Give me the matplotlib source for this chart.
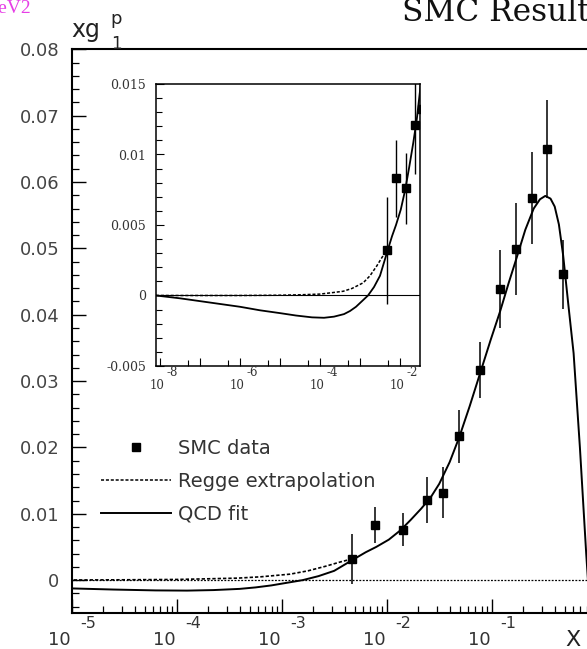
import numpy as np
import matplotlib
matplotlib.use("Agg")
import matplotlib.pyplot as plt
from matplotlib.lines import Line2D
from matplotlib.ticker import MultipleLocator, LogLocator, NullFormatter

W, H = 587, 649

# SMC data: x, x*g1p and error
data_x = [0.0047, 0.0078, 0.0144, 0.024, 0.0346, 0.049, 0.0775, 0.120, 0.170, 0.244, 0.337, 0.478]
data_y = [0.0032, 0.0083, 0.0076, 0.0121, 0.0132, 0.0217, 0.0317, 0.0439, 0.0499, 0.0576, 0.0650, 0.0461]
data_err = [0.0038, 0.0027, 0.0025, 0.0035, 0.0039, 0.0040, 0.0042, 0.0059, 0.0070, 0.0069, 0.0074, 0.0052]

# QCD fit (log10 x, x*g1p)
qcd_logx = [-8.1, -7.5, -7.0, -6.5, -6.0, -5.5, -5.0, -4.6, -4.2, -3.9, -3.65, -3.4, -3.25,
            -3.1, -2.95, -2.8, -2.65, -2.5, -2.33, -2.2, -2.1, -1.98, -1.87, -1.77, -1.67,
            -1.58, -1.5, -1.4, -1.31, -1.21, -1.11, -1.01, -0.92, -0.84, -0.76, -0.68,
            -0.60, -0.54, -0.49, -0.44, -0.40, -0.36, -0.32, -0.27, -0.22, -0.16, -0.10, -0.05]
qcd_y = [0.0, -0.0002, -0.0004, -0.0006, -0.0008, -0.00105, -0.00125, -0.00142, -0.00155,
         -0.00158, -0.0015, -0.00132, -0.0011, -0.0008, -0.0004, 0.0, 0.0006, 0.0014, 0.0030,
         0.0042, 0.0050, 0.0061, 0.0075, 0.0091, 0.0108, 0.0125, 0.0145, 0.0178, 0.0215,
         0.0262, 0.0312, 0.0362, 0.0405, 0.0447, 0.0487, 0.0528, 0.0560, 0.0574, 0.0579,
         0.0575, 0.0563, 0.0536, 0.0490, 0.0415, 0.0342, 0.020, 0.004, -0.008]

# Regge extrapolation at small x
regge_logx = [-8.1, -6.0, -5.0, -4.5, -4.0, -3.7, -3.42, -3.2, -2.92, -2.75, -2.58, -2.45, -2.33]
regge_y = [0.0, 0.0, 0.00002, 0.00005, 0.0001, 0.0002, 0.0003, 0.0005, 0.0009, 0.0014,
           0.0021, 0.0027, 0.0032]

main_decades = [-5, -4, -3, -2, -1]
inset_decades = [-8, -6, -4, -2]

qcd_x = np.power(10.0, qcd_logx)
regge_x = np.power(10.0, regge_logx)

fig = plt.figure(figsize=(W / 100, H / 100), dpi=100)

def px(x0, y0, w, h):
    return [x0 / W, 1 - (y0 + h) / H, w / W, h / H]

# ---------- main plot ----------
ax = fig.add_axes(px(71.7, 49.3, 525, 564))
ax.set_xscale("log")
ax.set_xlim(1e-5, 1)
ax.set_ylim(-0.005, 0.08)

ax.axhline(0, color="k", lw=0.9, ls=(0, (1.5, 1.2)))
ax.plot(regge_x, regge_y, color="k", lw=1.2, ls=(0, (2, 1.2)))
ax.plot(qcd_x, qcd_y, color="k", lw=1.4)
ax.errorbar(data_x, data_y, yerr=data_err, fmt="s", color="k", ms=6,
            elinewidth=1.1, capsize=0)

for s in ax.spines.values():
    s.set_linewidth(1.5)
ax.yaxis.set_minor_locator(MultipleLocator(0.002))
ax.set_yticks(np.arange(0, 0.081, 0.01))
ax.set_yticklabels(["0"] + ["%.2f" % v for v in np.arange(0.01, 0.081, 0.01)])
ax.xaxis.set_major_locator(LogLocator(base=10, numticks=10))
ax.xaxis.set_minor_locator(LogLocator(base=10, subs=np.arange(2, 10), numticks=20))
ax.xaxis.set_major_formatter(NullFormatter())
ax.xaxis.set_minor_formatter(NullFormatter())
ax.tick_params(which="both", direction="in", top=False, right=False)
ax.tick_params(which="major", length=10, width=1.0)
ax.tick_params(which="minor", length=5, width=0.9)
ax.tick_params(axis="y", labelsize=13, labelcolor="#444444", pad=9)

for e in main_decades:
    ax.annotate("10", xy=(10.0 ** e, 0), xycoords=("data", "axes fraction"),
                xytext=(-0.5, -19), textcoords="offset points", ha="right",
                va="center", fontsize=13, color="#333333")
    ax.annotate(str(e), xy=(10.0 ** e, 0), xycoords=("data", "axes fraction"),
                xytext=(6.5, -7), textcoords="offset points", ha="left",
                va="center", fontsize=11.5, color="#333333")

handles = [Line2D([], [], ls="none", marker="s", color="k", ms=6),
           Line2D([], [], color="k", lw=1.1, ls=(0, (2, 1.2))),
           Line2D([], [], color="k", lw=1.4)]
leg = ax.legend(handles, ["SMC data", "Regge extrapolation", "QCD fit"],
                loc="upper left", bbox_to_anchor=(101 / W, 1 - 439 / H),
                bbox_transform=fig.transFigure, frameon=False, fontsize=14,
                handlelength=3.6, handletextpad=0.35, labelspacing=0.72,
                borderpad=0, borderaxespad=0)
for t in leg.get_texts():
    t.set_color("#333333")

# ---------- inset ----------
ins = fig.add_axes(px(156, 84, 264, 282))
ins.set_xscale("log")
ins.set_xlim(10 ** -8.1, 10 ** -1.5)
ins.set_ylim(-0.005, 0.015)
ins.axhline(0, color="k", lw=0.8)
ins.plot(regge_x, regge_y, color="k", lw=1.1, ls=(0, (2, 1.2)))
ins.plot(qcd_x, qcd_y, color="k", lw=1.3)
ins.errorbar(data_x, data_y, yerr=data_err, fmt="s", color="k", ms=5.5,
             elinewidth=1.0, capsize=0)
for s in ins.spines.values():
    s.set_linewidth(1.1)
ins.set_yticks([-0.005, 0, 0.005, 0.01, 0.015])
ins.set_yticklabels(["-0.005", "0", "0.005", "0.01", "0.015"])
ins.yaxis.set_minor_locator(MultipleLocator(0.001))
ins.xaxis.set_major_locator(LogLocator(base=10, numticks=12))
ins.xaxis.set_minor_locator(LogLocator(base=10, subs=[5], numticks=12))
ins.xaxis.set_major_formatter(NullFormatter())
ins.xaxis.set_minor_formatter(NullFormatter())
ins.tick_params(which="both", direction="in", top=False, right=False)
ins.tick_params(which="major", length=6, width=0.8)
ins.tick_params(which="minor", length=4, width=0.8)
ins.tick_params(axis="y", labelsize=9, labelcolor="#333333", pad=7)
for lab in ins.get_yticklabels():
    lab.set_family("DejaVu Serif")

for e in inset_decades:
    ins.annotate("10", xy=(10.0 ** e, 0), xycoords=("data", "axes fraction"),
                 xytext=(3, -14), textcoords="offset points", ha="right",
                 va="center", fontsize=8.5, family="DejaVu Serif", color="#333333")
    ins.annotate(str(e), xy=(10.0 ** e, 0), xycoords=("data", "axes fraction"),
                 xytext=(4.5, -5), textcoords="offset points", ha="left",
                 va="center", fontsize=8.5, family="DejaVu Serif", color="#333333")

# ---------- titles and axis names ----------
fig.text(71 / W, 1 - 37 / H, "xg", fontsize=17, ha="left", va="baseline", color="#222222")
fig.text(110 / W, 1 - 24 / H, "p", fontsize=13, ha="left", va="baseline", color="#222222")
fig.text(111 / W, 1 - 49 / H, "1", fontsize=12, ha="left", va="baseline", color="#222222")
fig.text(573 / W, 1 - 640 / H, "X", fontsize=16, ha="center", va="center", color="#222222")
fig.text(31 / W, 1 - 13 / H, "GeV2", fontsize=14, ha="right", va="baseline",
         color="#e63ee6", family="Liberation Serif")
fig.text(402 / W, 1 - 21 / H, "SMC Result", fontsize=22.5, ha="left", va="baseline",
         color="#111111", family="DejaVu Serif")

fig.savefig("out.png", dpi=100)
